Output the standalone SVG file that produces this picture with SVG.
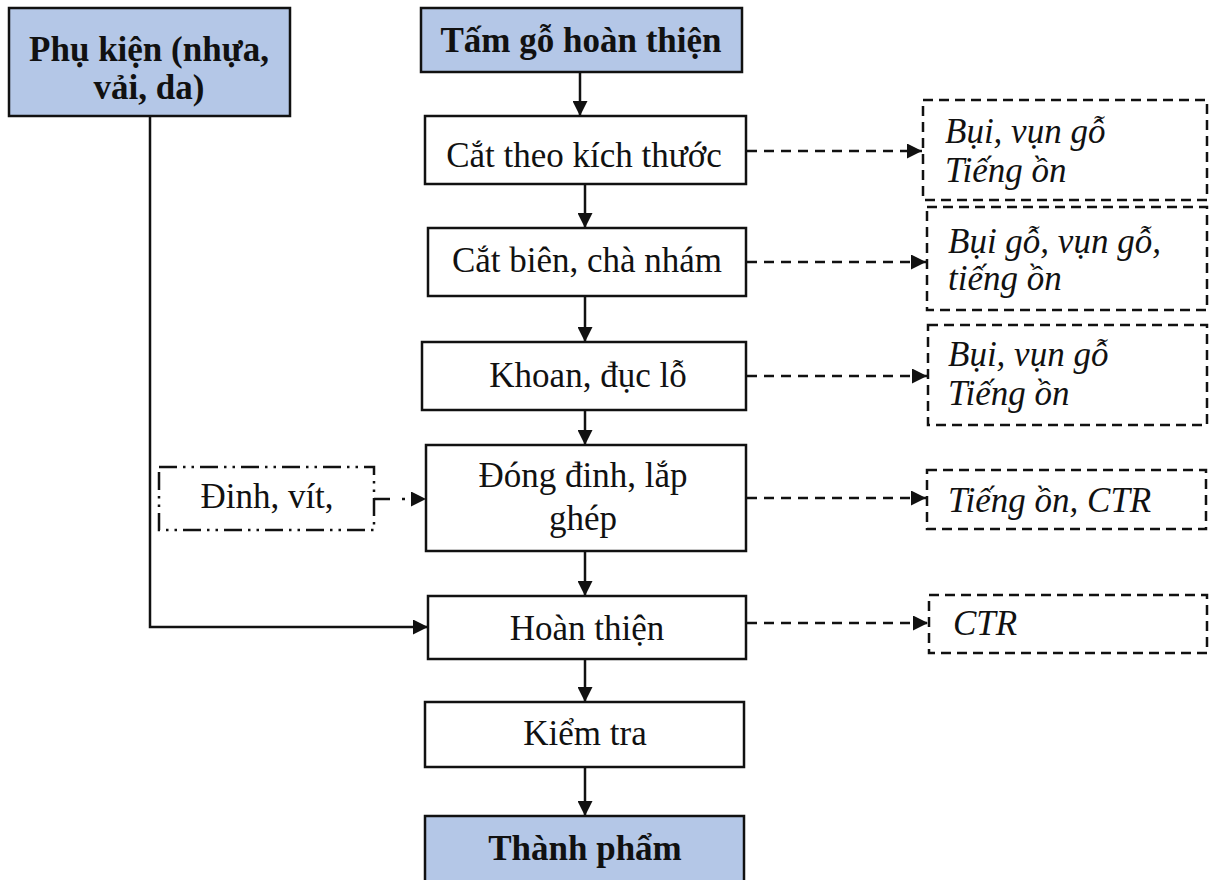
<svg xmlns="http://www.w3.org/2000/svg" width="1209" height="880" viewBox="0 0 1209 880">
<style>
.box{fill:#fff;stroke:#111;stroke-width:2.5}
.hd{fill:#b4c7e7;stroke:#111;stroke-width:2.5}
.dsh{fill:#fff;stroke:#111;stroke-width:2.5;stroke-dasharray:10 6}
.dd{fill:#fff;stroke:#111;stroke-width:2.5;stroke-dasharray:18 6 2.5 6 2.5 6}
.t{font-family:"Liberation Serif","Times New Roman",serif;font-size:35px;fill:#111;text-anchor:middle}
.b{font-weight:bold}
.i{font-family:"Liberation Serif","Times New Roman",serif;font-size:35px;font-style:italic;fill:#111}
.ln{fill:none;stroke:#111;stroke-width:2.5}
.dl{fill:none;stroke:#111;stroke-width:2.5;stroke-dasharray:10 7}
</style>
<defs>
<marker id="ah" viewBox="0 0 10 10" refX="10" refY="5" markerWidth="16" markerHeight="15" markerUnits="userSpaceOnUse" orient="auto">
<path d="M0,0 L10,5 L0,10 Z" fill="#111"/>
</marker>
</defs>
<rect width="1209" height="880" fill="#fff"/>
<g id="connectors">
<line class="ln" x1="580" y1="72" x2="580" y2="116" marker-end="url(#ah)"/>
<line class="ln" x1="585" y1="184" x2="585" y2="228" marker-end="url(#ah)"/>
<line class="ln" x1="585" y1="296" x2="585" y2="342" marker-end="url(#ah)"/>
<line class="ln" x1="585" y1="410" x2="585" y2="445" marker-end="url(#ah)"/>
<line class="ln" x1="585" y1="551" x2="585" y2="596" marker-end="url(#ah)"/>
<line class="ln" x1="585" y1="659" x2="585" y2="702" marker-end="url(#ah)"/>
<line class="ln" x1="585" y1="767" x2="585" y2="816" marker-end="url(#ah)"/>
<polyline class="ln" points="150,116 150,627 428,627" marker-end="url(#ah)"/>
<line class="ln" style="stroke-dasharray:16 12 3 30" x1="374" y1="499" x2="426" y2="499" marker-end="url(#ah)"/>
<line class="dl" x1="747" y1="151" x2="922" y2="151" marker-end="url(#ah)"/>
<line class="dl" x1="747" y1="262" x2="926" y2="262" marker-end="url(#ah)"/>
<line class="dl" x1="747" y1="376" x2="927" y2="376" marker-end="url(#ah)"/>
<line class="dl" x1="747" y1="498" x2="926" y2="498" marker-end="url(#ah)"/>
<line class="dl" x1="747" y1="623" x2="928" y2="623" marker-end="url(#ah)"/>
</g>
<g id="phu-kien">
<rect class="hd" x="9" y="8" width="281" height="108"/>
<text class="t b" x="149" y="61">Phụ kiện (nhựa,</text>
<text class="t b" x="149" y="99">vải, da)</text>
</g>
<g id="tam-go">
<rect class="hd" x="421" y="8" width="321" height="64"/>
<text class="t b" x="581" y="52">Tấm gỗ hoàn thiện</text>
</g>
<g id="cat-kich-thuoc">
<rect class="box" x="425" y="116" width="321" height="68"/>
<text class="t" x="584" y="167">Cắt theo kích thước</text>
</g>
<g id="cat-bien">
<rect class="box" x="428" y="228" width="318" height="68"/>
<text class="t" x="587" y="272">Cắt biên, chà nhám</text>
</g>
<g id="khoan">
<rect class="box" x="422" y="342" width="324" height="68"/>
<text class="t" x="588" y="387">Khoan, đục lỗ</text>
</g>
<g id="dong-dinh">
<rect class="box" x="426" y="445" width="320" height="106"/>
<text class="t" x="583" y="487">Đóng đinh, lắp</text>
<text class="t" x="583" y="530">ghép</text>
</g>
<g id="hoan-thien">
<rect class="box" x="428" y="596" width="318" height="63"/>
<text class="t" x="587" y="640">Hoàn thiện</text>
</g>
<g id="kiem-tra">
<rect class="box" x="425" y="702" width="319" height="65"/>
<text class="t" x="585" y="745">Kiểm tra</text>
</g>
<g id="thanh-pham">
<rect class="hd" x="425" y="816" width="319" height="66"/>
<text class="t b" x="585" y="860">Thành phẩm</text>
</g>
<g id="dinh-vit">
<rect class="dd" x="159" y="467" width="215" height="63"/>
<text class="t" x="267" y="508">Đinh, vít,</text>
</g>
<g id="out-1">
<rect class="dsh" x="923" y="100" width="284" height="100"/>
<text class="i" x="945" y="143">Bụi, vụn gỗ</text>
<text class="i" x="945" y="182">Tiếng ồn</text>
</g>
<g id="out-2">
<rect class="dsh" x="927" y="207" width="280" height="103"/>
<text class="i" x="948" y="253">Bụi gỗ, vụn gỗ,</text>
<text class="i" x="948" y="290">tiếng ồn</text>
</g>
<g id="out-3">
<rect class="dsh" x="928" y="325" width="279" height="100"/>
<text class="i" x="948" y="366">Bụi, vụn gỗ</text>
<text class="i" x="948" y="405">Tiếng ồn</text>
</g>
<g id="out-4">
<rect class="dsh" x="927" y="470" width="279" height="59"/>
<text class="i" x="948" y="512">Tiếng ồn, CTR</text>
</g>
<g id="out-5">
<rect class="dsh" x="929" y="595" width="278" height="58"/>
<text class="i" x="953" y="635">CTR</text>
</g>
</svg>
